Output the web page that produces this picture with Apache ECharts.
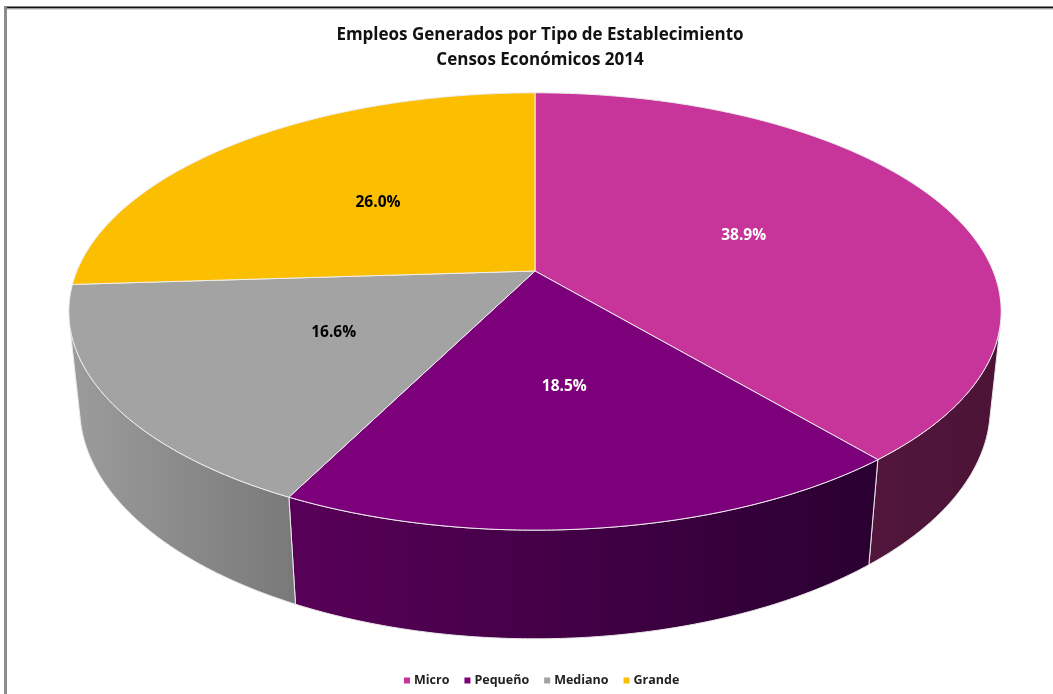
<!DOCTYPE html>
<html>
<head>
<meta charset="utf-8">
<title>Empleos Generados por Tipo de Establecimiento</title>
<script src="https://cdn.jsdelivr.net/npm/echarts@6/dist/echarts.min.js"></script>
<style>
  html, body { margin: 0; padding: 0; background: #ffffff; }
  #chart { width: 1053px; height: 694px; }
</style>
</head>
<body>
<div id="chart"></div>
<script>
// Employment share by establishment size (Censos Económicos 2014), in percent
const categories = ['Micro', 'Pequeño', 'Mediano', 'Grande'];
const shares = [38.9, 18.5, 16.6, 26.0];

// Face colours, wall gradient stops (left -> right) and label colours
const topColors = ['#C7349A', '#7B007A', '#A3A3A3', '#FCBE00'];
const wallColors = [['#52163D', '#4C1336'], ['#580058', '#2A0031'], ['#9C9C9C', '#797979'], ['#9A7300', '#7A5B00']];
const labelColors = ['#ffffff', '#ffffff', '#000000', '#000000'];

const FONT = '"Open Sans", Lato, sans-serif';

// Perspective camera for the tilted disc (units relative to camera distance)
const view = {
  cx: 535, cy: 271,       // projected pie centre
  f: 2196,                // focal length in px
  r: 0.2086,              // disc radius
  h: 0.0498,              // disc thickness
  sinA: 0.461, cosA: 0.887 // camera elevation
};

// Project a point of the disc: angle phi (clockwise from the right), radius fraction, height y (0 top, -h bottom)
function project(phi, rad, y) {
  const X = view.r * rad * Math.cos(phi);
  const Z = view.r * rad * Math.sin(phi);
  const depth = 1 - (y * view.sinA + Z * view.cosA);
  return [
    view.cx + view.f * X / depth,
    view.cy + view.f * (Z * view.sinA - y * view.cosA) / depth
  ];
}

function arcPoints(a0, a1, rad, y) {
  const n = Math.max(2, Math.ceil((a1 - a0) / (Math.PI / 360)));
  const pts = [];
  for (let i = 0; i <= n; i++) {
    pts.push(project(a0 + (a1 - a0) * i / n, rad, y));
  }
  return pts;
}

// Side wall faces the camera where sin(phi) > r / cos(A)
const wallStart = Math.asin(view.r / view.cosA);
const wallEnd = Math.PI - wallStart;

function renderSlice(params, api) {
  const idx = params.seriesIndex;
  const start = api.value(0);
  const share = api.value(1);
  const a0 = -Math.PI / 2 + 2 * Math.PI * start / 100;
  const a1 = a0 + 2 * Math.PI * share / 100;
  const children = [];

  // side wall
  const lo = Math.max(a0, wallStart);
  const hi = Math.min(a1, wallEnd);
  if (hi > lo) {
    const topRim = arcPoints(lo, hi, 1, 0);
    const botRim = arcPoints(lo, hi, 1, -view.h).reverse();
    const pts = topRim.concat(botRim);
    const xs = pts.map(p => p[0]);
    const minX = Math.min.apply(null, xs), maxX = Math.max.apply(null, xs);
    children.push({
      type: 'polygon',
      z2: 1,
      shape: { points: pts },
      style: {
        fill: {
          type: 'linear', x: minX, y: 0, x2: maxX, y2: 0, global: true,
          colorStops: [
            { offset: 0, color: wallColors[idx][0] },
            { offset: 1, color: wallColors[idx][1] }
          ]
        },
        stroke: '#e8e8e8',
        lineWidth: 1
      }
    });
  }

  // top face
  const topPts = [project(0, 0, 0)].concat(arcPoints(a0, a1, 1, 0));
  children.push({
    type: 'polygon',
    z2: 2,
    shape: { points: topPts },
    style: { fill: topColors[idx], stroke: '#eeeeee', lineWidth: 1 }
  });

  // value label
  const mid = (a0 + a1) / 2;
  const lp = project(mid, 0.5, 0);
  children.push({
    type: 'text',
    z2: 3,
    x: lp[0], y: lp[1],
    style: {
      text: share.toFixed(1) + '%',
      fill: labelColors[idx],
      font: 'bold 15.5px ' + FONT,
      align: 'center',
      verticalAlign: 'middle'
    }
  });

  return { type: 'group', children: children };
}

let cumulative = 0;
const series = categories.map((name, i) => {
  const start = cumulative;
  cumulative += shares[i];
  return {
    type: 'custom',
    name: name,
    coordinateSystem: 'none',
    itemStyle: { color: topColors[i] },
    renderItem: renderSlice,
    data: [[start, shares[i]]],
    silent: true
  };
});

const chart = echarts.init(document.getElementById('chart'), null, { renderer: 'canvas' });
chart.setOption({
  backgroundColor: '#ffffff',
  animation: false,
  title: {
    text: 'Empleos Generados por Tipo de Establecimiento\nCensos Económicos 2014',
    left: 535,
    textAlign: 'center',
    top: 18,
    textStyle: {
      fontFamily: FONT,
      fontWeight: 'bold',
      fontSize: 17,
      lineHeight: 25,
      color: '#111111'
    }
  },
  legend: {
    data: categories.map((name, i) => ({ name: name, itemStyle: { color: topColors[i] } })),
    icon: 'rect',
    itemWidth: 6,
    itemHeight: 6,
    itemGap: 15,
    left: 399,
    top: 669,
    textStyle: {
      fontFamily: FONT,
      fontWeight: 'bold',
      fontSize: 12.5,
      color: '#222222',
      padding: [0, 0, 0, -1]
    },
    selectedMode: false
  },
  graphic: [
    { type: 'line', shape: { x1: 4, y1: 7.5, x2: 1053, y2: 7.5 }, style: { stroke: '#111111', lineWidth: 2 } },
    { type: 'line', shape: { x1: 6, y1: 9, x2: 1053, y2: 9 }, style: { stroke: '#b0b0b0', lineWidth: 1 } },
    { type: 'line', shape: { x1: 5.5, y1: 7, x2: 5.5, y2: 694 }, style: { stroke: '#8c8c8c', lineWidth: 3 } }
  ],
  series: series
});
</script>
</body>
</html>
